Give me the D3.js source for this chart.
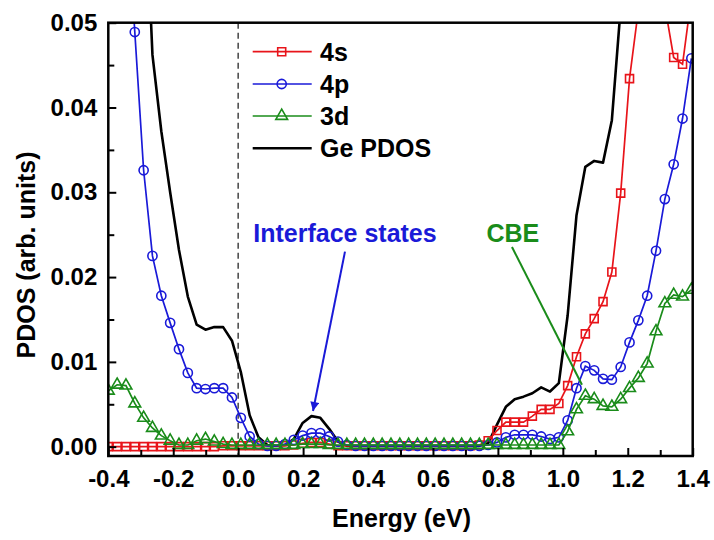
<!DOCTYPE html>
<html>
<head>
<meta charset="utf-8">
<script src="https://cdn.jsdelivr.net/npm/d3@7/dist/d3.min.js"></script>
<style>
html,body{margin:0;padding:0;background:#fff;}
svg{display:block;font-family:"Liberation Sans",Arial,Helvetica,sans-serif;font-weight:bold;}
</style>
</head>
<body>
<svg id="chart" width="714" height="540"></svg>
<script>
// ---- data ----
const energy = [-0.4000,-0.3728,-0.3456,-0.3184,-0.2912,-0.2640,-0.2367,-0.2095,-0.1823,-0.1551,
 -0.1279,-0.1007,-0.0735,-0.0463,-0.0191,0.0082,0.0354,0.0626,0.0898,0.1170,
 0.1442,0.1714,0.1986,0.2258,0.2530,0.2803,0.3075,0.3347,0.3619,0.3891,
 0.4163,0.4435,0.4707,0.4979,0.5251,0.5524,0.5796,0.6068,0.6340,0.6612,
 0.6884,0.7156,0.7428,0.7700,0.7972,0.8245,0.8517,0.8789,0.9061,0.9333,
 0.9605,0.9877,1.0149,1.0421,1.0693,1.0966,1.1238,1.1510,1.1782,1.2054,
 1.2326,1.2598,1.2870,1.3142,1.3414,1.3687,1.3959];

const s4 = [0,0,0,0,0,0,0,0,0,0,
 0,0,0,0.0001,0.0001,0.0001,0.0001,0.0001,0.0001,0.0001,
 0.0001,0.0002,0.0004,0.0005,0.0005,0.0003,0.0001,0.0001,0.0001,0.0001,
 0.0001,0.0001,0.0001,0.0001,0.0001,0.0001,0.0001,0.0001,0.0001,0.0001,
 0.0001,0.0001,0.0002,0.0007,0.0019,0.0029,0.0029,0.0029,0.0036,0.0044,
 0.0044,0.0051,0.0072,0.0106,0.0133,0.0151,0.0171,0.0206,0.0299,0.0434,
 0.0515,0.062,0.060,0.052,0.0459,0.0451,0.053];

const p4 = [0.10,0.085,0.066,0.0489,0.0326,0.0225,0.0178,0.0146,0.0115,0.0087,
 0.0069,0.0068,0.0069,0.0069,0.0058,0.0034,0.0012,0.0003,0.0001,0.0001,
 0.0003,0.0008,0.0013,0.0016,0.0016,0.0012,0.0006,0.0002,0.0001,0.0001,
 0.0001,0.0001,0.0001,0.0001,0.0001,0.0001,0.0001,0.0001,0.0001,0.0001,
 0.0001,0.0001,0.0001,0.0002,0.0005,0.0011,0.0014,0.0014,0.0014,0.0012,
 0.0009,0.0011,0.0031,0.0069,0.0095,0.0090,0.0080,0.0079,0.0094,0.0123,
 0.0149,0.0178,0.0231,0.0292,0.0333,0.0387,0.0458];

const d3s = [0.0066,0.0073,0.0072,0.0051,0.0034,0.0022,0.0013,0.0007,0.0002,0.0002,
 0.0007,0.0009,0.0006,0.0003,0.0002,0.0002,0.0002,0.0002,0.0002,0.0002,
 0.0002,0.0002,0.0003,0.0003,0.0003,0.0002,0.0002,0.0002,0.0002,0.0002,
 0.0002,0.0002,0.0002,0.0002,0.0002,0.0002,0.0002,0.0002,0.0002,0.0002,
 0.0002,0.0002,0.0002,0.0002,0.0002,0.0002,0.0002,0.0002,0.0002,0.0002,
 0.0002,0.0002,0.0018,0.0044,0.0060,0.0056,0.0048,0.0047,0.0056,0.0069,
 0.0081,0.0098,0.0136,0.0169,0.0179,0.0177,0.0185];

const gePDOS = [0.16,0.14,0.12,0.095,0.07,0.0462,0.0372,0.0300,0.0232,0.0177,
 0.0144,0.0138,0.0141,0.0141,0.0125,0.0088,0.0037,0.0011,0.0002,0.0001,
 0.0002,0.0009,0.0028,0.0036,0.0034,0.0021,0.0006,0.0001,0.0001,0.0001,
 0.0001,0.0001,0.0001,0.0001,0.0001,0.0001,0.0001,0.0001,0.0001,0.0001,
 0.0001,0.0001,0.0001,0.0004,0.0026,0.0047,0.0056,0.0059,0.0063,0.0070,
 0.0065,0.0075,0.0155,0.0273,0.0330,0.0337,0.0335,0.0385,0.0518,0.075,
 0.09,0.10,0.11,0.12,0.13,0.14,0.15];

const seriesNames = ["4s","4p","3d","Ge PDOS"];
const xTicks = [-0.4,-0.2,0.0,0.2,0.4,0.6,0.8,1.0,1.2,1.4];
const xTickLabels = ["-0.4","-0.2","0.0","0.2","0.4","0.6","0.8","1.0","1.2","1.4"];
const xMinor = [-0.3,-0.1,0.1,0.3,0.5,0.7,0.9,1.1,1.3];
const yTicks = [0.00,0.01,0.02,0.03,0.04,0.05];
const yTickLabels = ["0.00","0.01","0.02","0.03","0.04","0.05"];
const yMinor = [0.005,0.015,0.025,0.035,0.045];
const annInterface = {label:"Interface states", tx:0.329, ty:0.0241, x1:0.329, y1:0.0230, x2:0.2305, y2:0.0042};
const annCBE = {label:"CBE", tx:0.846, ty:0.0241, x1:0.8433, y1:0.02355, x2:1.0589, y2:0.0073};

// ---- layout ----
const L = 108.3, R = 692.7, T = 22.7, B = 456;
const x = d3.scaleLinear().domain([-0.4,1.4]).range([L,R]);
const y = d3.scaleLinear().domain([-0.0011,0.05]).range([B,T]);

const RED="#e8141a", BLUE="#1a1ad8", GREEN="#1a8c1a";
const SYM = {sq:64, ci:66, tr:60};
const svg = d3.select("#chart");

const defs = svg.append("defs");
defs.append("clipPath").attr("id","clip")
  .append("rect").attr("x",L).attr("y",T).attr("width",R-L).attr("height",B-T);
defs.append("marker").attr("id","arrowBlue").attr("viewBox","0 0 10 10")
  .attr("refX",10).attr("refY",5).attr("markerWidth",12).attr("markerHeight",9)
  .attr("markerUnits","userSpaceOnUse").attr("orient","auto")
  .append("path").attr("d","M0,0 L10,5 L0,10 Z").attr("fill",BLUE);

// zero line
svg.append("line").attr("x1",x(0)).attr("x2",x(0)).attr("y1",T).attr("y2",B)
  .attr("stroke","#444").attr("stroke-width",1.5).attr("stroke-dasharray","6,4");

const plot = svg.append("g").attr("clip-path","url(#clip)");
const line = d3.line().x(d=>x(d[0])).y(d=>y(d[1]));
const zip = arr => energy.map((e,i)=>[e,arr[i]]);
const symSize = s => s===d3.symbolTriangle?SYM.tr:(s===d3.symbolCircle?SYM.ci:SYM.sq);

function drawSeries(arr,color,shape){
  const g = plot.append("g");
  g.append("path").datum(zip(arr)).attr("d",line).attr("fill","none")
    .attr("stroke",color).attr("stroke-width",1.7);
  g.selectAll("path.m").data(zip(arr)).enter().append("path").attr("class","m")
    .attr("transform",d=>`translate(${x(d[0])},${y(d[1])})`)
    .attr("d",d3.symbol().type(shape).size(symSize(shape)))
    .attr("fill","none").attr("stroke",color).attr("stroke-width",1.6);
}
plot.append("path").datum(zip(gePDOS)).attr("d",line).attr("fill","none")
  .attr("stroke","#000").attr("stroke-width",2.6).attr("stroke-linejoin","round");
drawSeries(s4,RED,d3.symbolSquare);
drawSeries(p4,BLUE,d3.symbolCircle);
drawSeries(d3s,GREEN,d3.symbolTriangle);

// axes ticks (inward)
const ax = svg.append("g").attr("transform",`translate(0,${B})`)
  .call(d3.axisBottom(x).tickValues(xTicks).tickSize(-8).tickPadding(14)
    .tickFormat((d,i)=>xTickLabels[i]));
ax.select(".domain").remove();
ax.selectAll("line").attr("stroke","#000").attr("stroke-width",2);
ax.selectAll("text").attr("font-size",24).attr("fill","#000").attr("font-family","Liberation Sans, Arial, sans-serif").attr("font-weight","bold");
const axm = svg.append("g").attr("transform",`translate(0,${B})`)
  .call(d3.axisBottom(x).tickValues(xMinor).tickSize(-6).tickFormat(""));
axm.select(".domain").remove();
axm.selectAll("line").attr("stroke","#000").attr("stroke-width",2);

const ay = svg.append("g").attr("transform",`translate(${L},0)`)
  .call(d3.axisLeft(y).tickValues(yTicks).tickSize(-8).tickPadding(11)
    .tickFormat((d,i)=>yTickLabels[i]));
ay.select(".domain").remove();
ay.selectAll("line").attr("stroke","#000").attr("stroke-width",2);
ay.selectAll("text").attr("font-size",24).attr("fill","#000").attr("font-family","Liberation Sans, Arial, sans-serif").attr("font-weight","bold");
const aym = svg.append("g").attr("transform",`translate(${L},0)`)
  .call(d3.axisLeft(y).tickValues(yMinor).tickSize(-6).tickFormat(""));
aym.select(".domain").remove();
aym.selectAll("line").attr("stroke","#000").attr("stroke-width",2);

// frame
svg.append("rect").attr("x",L).attr("y",T).attr("width",R-L).attr("height",B-T)
  .attr("fill","none").attr("stroke","#000").attr("stroke-width",2.5);

// titles
svg.append("text").attr("x",(L+R)/2+1).attr("y",527).attr("text-anchor","middle")
  .attr("font-size",25).text("Energy (eV)");
svg.append("text").attr("transform","translate(35,255) rotate(-90)").attr("text-anchor","middle")
  .attr("font-size",25).text("PDOS (arb. units)");

// legend
const legY = [51.7,84,116,148.3];
const legColors = [RED,BLUE,GREEN,"#000"];
const legShapes = [d3.symbolSquare,d3.symbolCircle,d3.symbolTriangle,null];
seriesNames.forEach((n,i)=>{
  const g = svg.append("g").attr("transform",`translate(0,${legY[i]})`);
  g.append("line").attr("x1",252.7).attr("x2",311.7).attr("y1",0).attr("y2",0)
    .attr("stroke",legColors[i]).attr("stroke-width",i===3?2.6:1.7);
  if(legShapes[i]) g.append("path").attr("transform","translate(281.7,0)")
    .attr("d",d3.symbol().type(legShapes[i]).size(symSize(legShapes[i])))
    .attr("fill","none").attr("stroke",legColors[i]).attr("stroke-width",1.6);
  g.append("text").attr("x",320).attr("y",9).attr("font-size",25).attr("fill","#000").text(n);
});

// annotations
svg.append("text").attr("x",x(annInterface.tx)).attr("y",y(annInterface.ty)).attr("text-anchor","middle")
  .attr("font-size",25).attr("fill",BLUE).text(annInterface.label);
svg.append("line").attr("x1",x(annInterface.x1)).attr("y1",y(annInterface.y1))
  .attr("x2",x(annInterface.x2)).attr("y2",y(annInterface.y2))
  .attr("stroke",BLUE).attr("stroke-width",2).attr("marker-end","url(#arrowBlue)");
svg.append("text").attr("x",x(annCBE.tx)).attr("y",y(annCBE.ty)).attr("text-anchor","middle")
  .attr("font-size",25).attr("fill",GREEN).text(annCBE.label);
svg.append("line").attr("x1",x(annCBE.x1)).attr("y1",y(annCBE.y1))
  .attr("x2",x(annCBE.x2)).attr("y2",y(annCBE.y2))
  .attr("stroke",GREEN).attr("stroke-width",2);
</script>
</body>
</html>
